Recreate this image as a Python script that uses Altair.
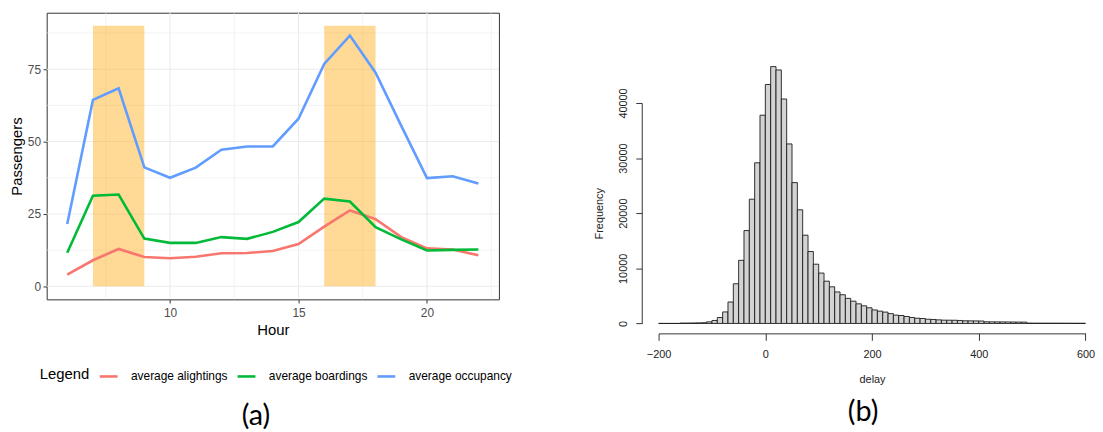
import altair as alt
import pandas as pd

# ---------------- panel (a): hourly passengers ----------------
hours = list(range(6, 23))
alightings = [4.0, 9.0, 12.9, 10.1, 9.7, 10.2, 11.4, 11.5, 12.2, 14.6, 20.6, 26.2, 23.2, 17.0, 13.1, 12.7, 10.7]
boardings = [11.6, 31.3, 31.7, 16.5, 15.0, 15.0, 17.0, 16.4, 18.8, 22.2, 30.3, 29.3, 20.4, 16.2, 12.4, 12.6, 12.7]
occupancy = [21.5, 64.4, 68.4, 41.1, 37.5, 41.0, 47.2, 48.3, 48.3, 57.9, 76.8, 86.6, 73.8, 55.4, 37.4, 38.0, 35.5]
series_names = ["average alightings", "average boardings", "average occupancy"]
series_colors = ["#F8766D", "#00BA38", "#619CFF"]

peak_start = [7, 16]
peak_end = [9, 18]
peak_low = [0, 0]
peak_high = [90, 90]

major_x = [10, 15, 20]
minor_x = [7.5, 12.5, 17.5, 22.5]
major_y = [0, 25, 50, 75]
minor_y = [12.5, 37.5, 62.5, 87.5]

# ---------------- panel (b): delay histogram ----------------
bin_starts = list(range(-200, 600, 10))
counts = [
    0, 0, 0, 0, 60, 70, 80, 100, 130, 290,
    540, 1080, 2090, 3890, 7200, 11450, 16850, 22540, 29150, 37780,
    43350, 46600, 45990, 40720, 32570, 25550, 20620, 16010, 13050, 10750,
    9140, 7670, 6650, 5720, 5210, 4550, 4040, 3560, 3200, 2840,
    2450, 2230, 2060, 1790, 1510, 1440, 1260, 1080, 950, 900,
    770, 720, 650, 600, 590, 580, 540, 480, 470, 460,
    440, 300, 290, 280, 280, 270, 260, 250, 240, 60,
    50, 50, 45, 45, 40, 40, 35, 35, 30, 30,
]
bin_width = 10
delay_ticks = [-200, 0, 200, 400, 600]
freq_ticks = [0, 10000, 20000, 30000, 40000]

FONT = "Liberation Sans"

# ---------- build tables ----------
long_rows = []
for name, vals in zip(series_names, [alightings, boardings, occupancy]):
    for h, v in zip(hours, vals):
        long_rows.append({"hour": h, "value": v, "series": name})
lines_df = pd.DataFrame(long_rows)
peaks_df = pd.DataFrame({"start": peak_start, "end": peak_end, "low": peak_low, "high": peak_high})
gx_major = pd.DataFrame({"hour": major_x})
gx_minor = pd.DataFrame({"hour": minor_x})
gy_major = pd.DataFrame({"value": major_y})
gy_minor = pd.DataFrame({"value": minor_y})
hist_df = pd.DataFrame({"start": bin_starts, "end": [s + bin_width for s in bin_starts], "count": counts})

W1, H1 = 456, 289
xs = alt.Scale(domain=[5.2, 22.8], nice=False, zero=False)
ys = alt.Scale(domain=[-4.5, 94.5], nice=False, zero=False)

x_axis = alt.Axis(values=major_x, grid=False, domain=False, tickColor="#333333", tickSize=3.7,
                  tickWidth=1, labelColor="#4D4D4D", labelFontSize=12, labelFont=FONT, labelPadding=5,
                  titleFont=FONT, titleFontSize=15, titleFontWeight="normal", titleColor="black",
                  titlePadding=4)
y_axis = alt.Axis(values=major_y, grid=False, domain=False, tickColor="#333333", tickSize=3.7,
                  tickWidth=1, labelColor="#4D4D4D", labelFontSize=12, labelFont=FONT, labelPadding=2.5,
                  titleFont=FONT, titleFontSize=15, titleFontWeight="normal", titleColor="black",
                  titlePadding=3)

grid_xmin = alt.Chart(gx_minor).mark_rule(color="#EBEBEB", strokeWidth=0.6).encode(
    x=alt.X("hour:Q", scale=xs, title="Hour", axis=x_axis))
grid_xmaj = alt.Chart(gx_major).mark_rule(color="#EBEBEB", strokeWidth=1.1).encode(
    x=alt.X("hour:Q", scale=xs, title="Hour"))
grid_ymin = alt.Chart(gy_minor).mark_rule(color="#EBEBEB", strokeWidth=0.6).encode(
    y=alt.Y("value:Q", scale=ys, title="Passengers", axis=y_axis))
grid_ymaj = alt.Chart(gy_major).mark_rule(color="#EBEBEB", strokeWidth=1.1).encode(
    y=alt.Y("value:Q", scale=ys, title="Passengers"))

peaks = alt.Chart(peaks_df).mark_rect(fill="#FFA500", opacity=0.41).encode(
    x=alt.X("start:Q", scale=xs, title="Hour"), x2="end:Q",
    y=alt.Y("low:Q", scale=ys, title="Passengers"), y2="high:Q")

lines = alt.Chart(lines_df).mark_line(strokeWidth=2.6).encode(
    x=alt.X("hour:Q", scale=xs, title="Hour"),
    y=alt.Y("value:Q", scale=ys, title="Passengers"),
    color=alt.Color("series:N", scale=alt.Scale(domain=series_names, range=series_colors),
                    legend=alt.Legend(orient="none", legendX=-7, legendY=356, direction="horizontal",
                                      title="Legend", titleOrient="left", titleFont=FONT,
                                      titleFontSize=15, titleFontWeight="normal", titleColor="black",
                                      titlePadding=8, titleBaseline="middle",
                                      labelFont=FONT, labelFontSize=12, labelColor="black",
                                      labelOffset=12, columnPadding=4, symbolType="stroke",
                                      symbolSize=324, symbolStrokeWidth=2.6, symbolOffset=0)),
)

left = alt.layer(grid_xmin, grid_xmaj, grid_ymin, grid_ymaj, peaks, lines).properties(
    width=W1, height=H1,
    view=alt.ViewBackground(stroke="#333333", strokeWidth=1),
    title=alt.TitleParams("(a)", orient="bottom", anchor="middle", frame="group", dx=-17, offset=65,
                          font="Lato", fontSize=29, fontWeight="normal", color="black"),
)

# ---------- right panel ----------
W2 = 430.4
H2 = 313.3
xs2 = alt.Scale(domain=[-200, 600], nice=False, zero=False)
ys2 = alt.Scale(domain=[0, 40000], range=[313.3, 91.0], nice=False, zero=False)

hist = alt.Chart(hist_df).mark_bar(fill="#D3D3D3", stroke="#1a1a1a", strokeWidth=0.9).encode(
    x=alt.X("start:Q", scale=xs2, title="delay",
            axis=alt.Axis(values=delay_ticks, offset=10, tickSize=7, grid=False, domainColor="#333333",
                          tickColor="#333333", labelFont=FONT, labelFontSize=11, labelColor="#222222",
                          labelPadding=8, labelFlush=False, labelOverlap=False, titleFont=FONT,
                          titleFontSize=11, titleFontWeight="normal", titleColor="#222222",
                          titlePadding=15)),
    x2="end:Q",
    y=alt.Y("count:Q", scale=ys2, title="Frequency",
            axis=alt.Axis(values=freq_ticks, offset=17, tickSize=6, grid=False, domainColor="#333333",
                          tickColor="#333333", labelFont=FONT, labelFontSize=11, labelColor="#222222",
                          labelAngle=270, labelAlign="center", labelBaseline="bottom", labelPadding=7,
                          format="d", labelOverlap=False, titleFont=FONT, titleFontSize=11,
                          titleFontWeight="normal", titleColor="#222222", titlePadding=14)),
    y2=alt.datum(0),
).properties(
    width=W2, height=H2,
    view=alt.ViewBackground(strokeOpacity=0, strokeWidth=0),
    title=alt.TitleParams("(b)", orient="bottom", anchor="middle", frame="group", dx=-9, offset=13,
                          font="Lato", fontSize=29, fontWeight="normal", color="black"),
)

chart = alt.hconcat(left, hist, spacing=161, bounds="flush").properties(
    padding={"left": 0, "top": 1, "right": 0, "bottom": 0}
).configure_view(strokeOpacity=0).configure(background="white")

chart.save("out.html", embed_options={"renderer": "svg", "actions": False})
